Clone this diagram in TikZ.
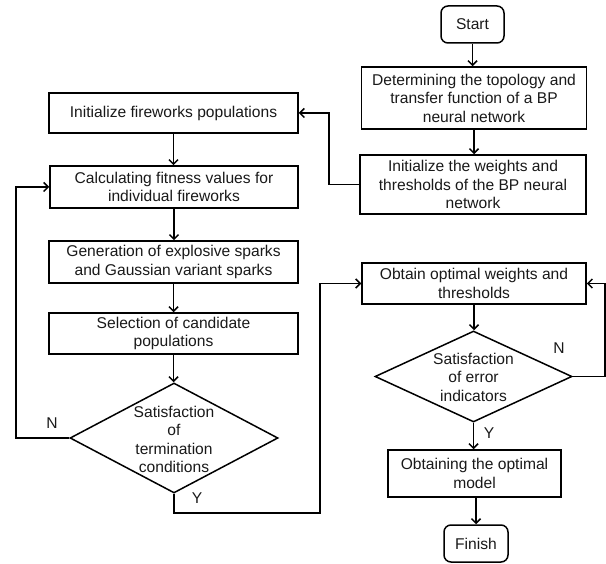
\documentclass[tikz,border=0pt]{standalone}
\usepackage{fontspec}
\setmainfont{Liberation Sans}
\usetikzlibrary{arrows.meta,shapes.geometric}
\begin{document}
\begin{tikzpicture}[x=1pt,y=-1pt,
  every node/.style={font=\fontsize{15.6}{18.5}\selectfont,text=black!90},
  box/.style={draw,line width=1.5pt,rectangle,inner sep=0pt,align=center},
  term/.style={box,rounded corners=7pt},
  dia/.style={draw,line width=1.5pt,diamond,inner sep=0pt},
  txt/.style={align=center,inner sep=0pt},
  arr/.style={line width=1.5pt,-{Straight Barb[length=4.5pt,width=9pt,line width=1.5pt]}}]
\useasboundingbox (0,0) rectangle (606,564);
\node[term,minimum width=63pt,minimum height=37pt] (start) at (472.5,24.5) {Start};
\node[box,minimum width=225pt,minimum height=62pt] (det) at (474,98) {Determining the topology and\\transfer function of a BP\\neural network};
\node[box,minimum width=226pt,minimum height=59pt] (initw) at (473,184.5) {Initialize the weights and\\thresholds of the BP neural\\network};
\node[box,minimum width=249pt,minimum height=40pt] (initf) at (173.5,113) {Initialize fireworks populations};
\node[box,minimum width=248pt,minimum height=42pt] (calc) at (174,187) {Calculating fitness values for\\individual fireworks};
\node[box,minimum width=249pt,minimum height=42pt] (gen) at (173.5,262) {Generation of explosive sparks\\and Gaussian variant sparks};
\node[box,minimum width=249pt,minimum height=41pt] (sel) at (173.5,333.5) {Selection of candidate\\populations};
\node[dia,minimum width=208pt,minimum height=110pt] (d1) at (174,438) {};
\node[txt] (d1t) at (174,439.5) {Satisfaction\\of\\termination\\conditions};
\node[box,minimum width=224pt,minimum height=41pt] (obt) at (474,283.5) {Obtain optimal weights and\\thresholds};
\node[dia,minimum width=197pt,minimum height=91pt] (d2) at (473.5,376.5) {};
\node[txt] (d2t) at (473.5,377) {Satisfaction\\of error\\indicators};
\node[box,minimum width=173pt,minimum height=47pt] (model) at (474.5,473.5) {Obtaining the optimal\\model};
\node[term,minimum width=64pt,minimum height=37pt] (finish) at (476,543.5) {Finish};
\coordinate (lc) at (329,184.5);
\coordinate (nl) at (16,438);
\coordinate (yc) at (320,513);
\coordinate (nr) at (605,376.5);
\draw[arr] (start.south) -- (start.south |- det.north);
\draw[arr] (det.south) -- (det.south |- initw.north);
\draw[arr] (initw.west) -- (lc) |- (initf.east);
\draw[arr] (initf.south) -- (initf.south |- calc.north);
\draw[arr] (calc.south) -- (calc.south |- gen.north);
\draw[arr] (gen.south) -- (gen.south |- sel.north);
\draw[arr] (sel.south) -- (sel.south |- d1.north);
\draw[arr] (d1.west) -- (nl) |- (calc.west);
\draw[arr] (d1.south) |- (yc) |- (obt.west);
\draw[arr] (obt.south) -- (obt.south |- d2.north);
\draw[arr] (d2.east) -- (nr) |- (obt.east);
\draw[arr] (d2.south) -- (d2.south |- model.north);
\draw[arr] (model.south -| finish.north) -- (finish.north);
\node (n1) at (52,423) {N};
\node (y1) at (197,498) {Y};
\node (n2) at (559,348) {N};
\node (y2) at (489,433) {Y};
\end{tikzpicture}
\end{document}
